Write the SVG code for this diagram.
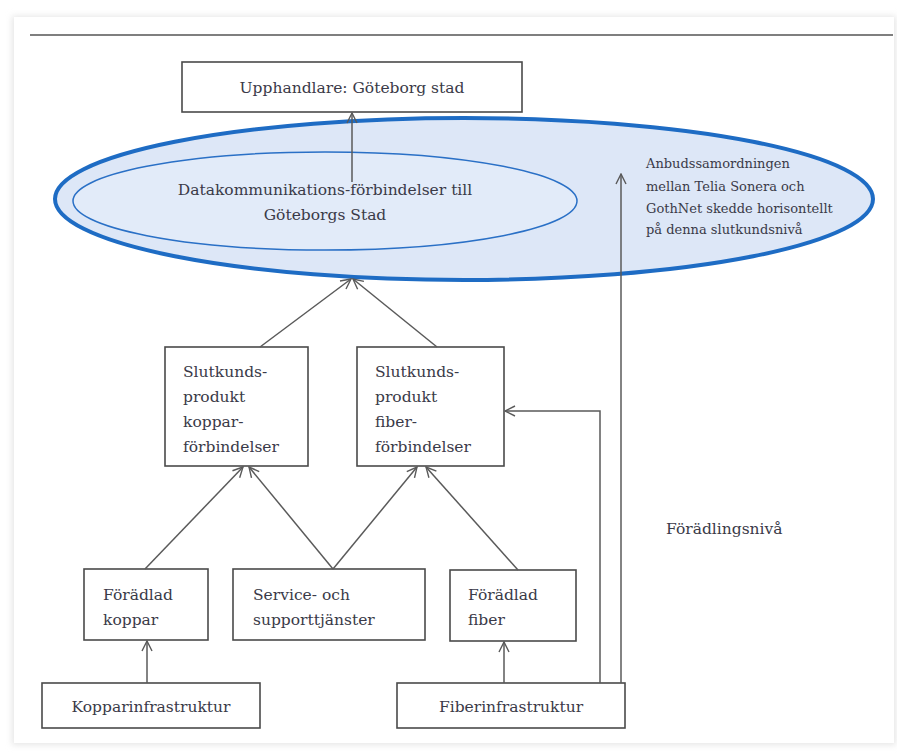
<svg xmlns="http://www.w3.org/2000/svg" width="897" height="755" viewBox="0 0 897 755">
  <style>
    .box { fill: #ffffff; stroke: #4a4a4a; stroke-width: 1.6; }
    .t { font-family: "DejaVu Serif", "Liberation Serif", serif; font-size: 15.5px; fill: #3a3a48; }
    .note { font-family: "DejaVu Serif", "Liberation Serif", serif; font-size: 13px; fill: #3a3a48; }
    .conn { fill: none; stroke: #5a5a5a; stroke-width: 1.5; }
  </style>
  <defs>
    <marker id="arr" viewBox="0 0 12 12" refX="11" refY="6" markerWidth="12" markerHeight="12" markerUnits="userSpaceOnUse" orient="auto">
      <path d="M1,1 L11,6 L1,11" fill="none" stroke="#5a5a5a" stroke-width="1.4"/>
    </marker>
    <filter id="shadow" x="-5%" y="-5%" width="110%" height="110%">
      <feGaussianBlur stdDeviation="3"/>
    </filter>
  </defs>

  <rect x="0" y="0" width="897" height="755" fill="#ffffff"/>
  <!-- page sheet -->
  <rect x="12" y="16" width="884" height="729" fill="#e6e6e6" filter="url(#shadow)"/>
  <rect x="14" y="17" width="880" height="726" fill="#ffffff"/>
  <line x1="30" y1="35" x2="893" y2="35" stroke="#555" stroke-width="1.5"/>

  <!-- Ellipse node -->
  <g id="ellipse-node">
    <ellipse cx="464" cy="199" rx="409" ry="81" fill="#dde7f7" stroke="#1e6cc4" stroke-width="4"/>
    <ellipse cx="325" cy="201" rx="252" ry="49" fill="#e2ebf9" stroke="#2a70c6" stroke-width="1.5"/>
    <text class="t" x="325" y="195" text-anchor="middle">Datakommunikations-förbindelser till</text>
    <text class="t" x="325" y="220" text-anchor="middle">Göteborgs Stad</text>
  </g>

  <g id="note">
    <text class="note" x="646" y="168">Anbudssamordningen</text>
    <text class="note" x="646" y="191">mellan Telia Sonera och</text>
    <text class="note" x="646" y="213">GothNet skedde horisontellt</text>
    <text class="note" x="646" y="234">på denna slutkundsnivå</text>
  </g>

  <g id="upphandlare">
    <rect class="box" x="182" y="62" width="340" height="50"/>
    <text class="t" x="352" y="93" text-anchor="middle" font-size="16">Upphandlare: Göteborg stad</text>
  </g>

  <g id="slut-koppar">
    <rect class="box" x="165" y="347" width="143" height="119"/>
    <text class="t" x="183" y="377">Slutkunds-</text>
    <text class="t" x="183" y="402">produkt</text>
    <text class="t" x="183" y="427">koppar-</text>
    <text class="t" x="183" y="452">förbindelser</text>
  </g>

  <g id="slut-fiber">
    <rect class="box" x="357" y="347" width="147" height="119"/>
    <text class="t" x="375" y="377">Slutkunds-</text>
    <text class="t" x="375" y="402">produkt</text>
    <text class="t" x="375" y="427">fiber-</text>
    <text class="t" x="375" y="452">förbindelser</text>
  </g>

  <g id="foradlad-koppar">
    <rect class="box" x="84" y="569" width="124" height="71"/>
    <text class="t" x="103" y="600">Förädlad</text>
    <text class="t" x="103" y="625">koppar</text>
  </g>

  <g id="service">
    <rect class="box" x="233" y="569" width="192" height="71"/>
    <text class="t" x="253" y="600">Service- och</text>
    <text class="t" x="253" y="625">supporttjänster</text>
  </g>

  <g id="foradlad-fiber">
    <rect class="box" x="450" y="570" width="126" height="71"/>
    <text class="t" x="468" y="600">Förädlad</text>
    <text class="t" x="468" y="625">fiber</text>
  </g>

  <g id="kopparinfra">
    <rect class="box" x="42" y="683" width="218" height="45"/>
    <text class="t" x="151" y="712" text-anchor="middle" font-size="16">Kopparinfrastruktur</text>
  </g>

  <g id="fiberinfra">
    <rect class="box" x="397" y="683" width="228" height="45"/>
    <text class="t" x="511" y="712" text-anchor="middle" font-size="16">Fiberinfrastruktur</text>
  </g>

  <g id="label-foradlingsniva">
    <text class="t" x="666" y="534" font-size="14.5">Förädlingsnivå</text>
  </g>

  <g id="connectors">
    <line class="conn" x1="352" y1="182" x2="352" y2="113" marker-end="url(#arr)"/>
    <line class="conn" x1="260" y1="347" x2="351" y2="279" marker-end="url(#arr)"/>
    <line class="conn" x1="437" y1="347" x2="353" y2="279" marker-end="url(#arr)"/>
    <line class="conn" x1="145" y1="569" x2="243" y2="467" marker-end="url(#arr)"/>
    <line class="conn" x1="333" y1="569" x2="249" y2="467" marker-end="url(#arr)"/>
    <line class="conn" x1="333" y1="569" x2="417" y2="467" marker-end="url(#arr)"/>
    <line class="conn" x1="518" y1="570" x2="426" y2="467" marker-end="url(#arr)"/>
    <line class="conn" x1="147" y1="683" x2="147" y2="641" marker-end="url(#arr)"/>
    <line class="conn" x1="504" y1="683" x2="504" y2="642" marker-end="url(#arr)"/>
    <polyline class="conn" points="600,683 600,411 505,411" marker-end="url(#arr)"/>
    <line class="conn" x1="621" y1="683" x2="621" y2="174" marker-end="url(#arr)"/>
  </g>
</svg>
